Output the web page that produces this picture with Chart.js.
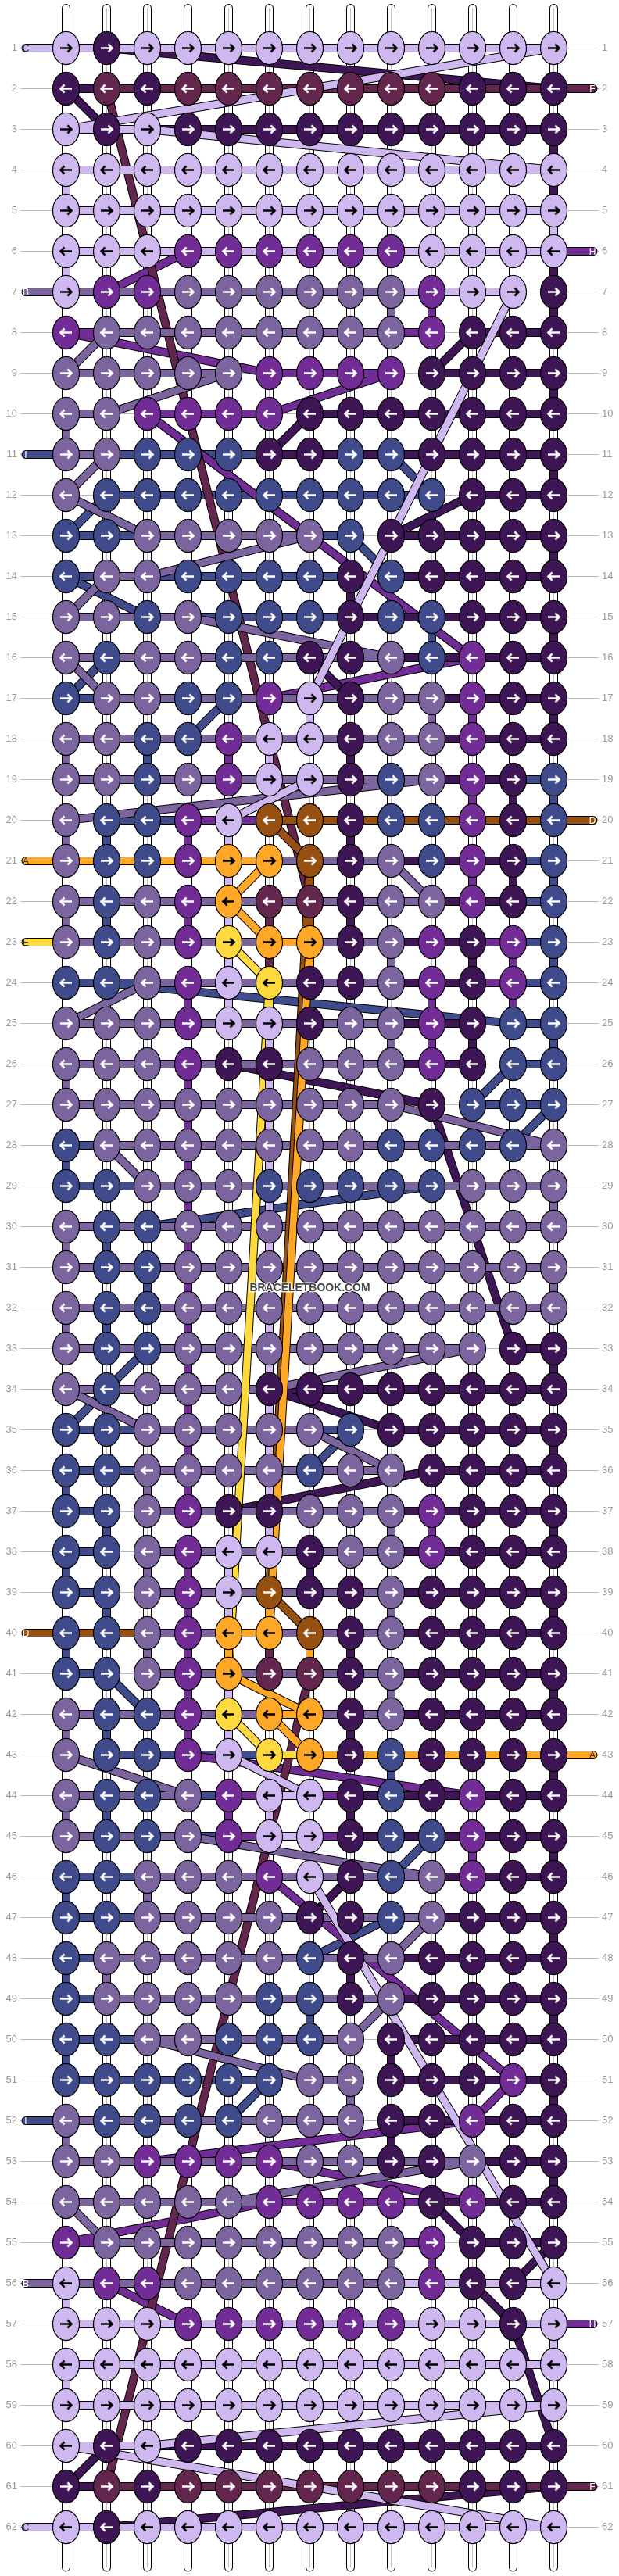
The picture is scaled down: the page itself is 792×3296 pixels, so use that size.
<!DOCTYPE html>
<html>
<head>
<meta charset="utf-8">
<title>Bracelet pattern</title>
<script src="https://cdn.jsdelivr.net/npm/chart.js@4"></script>
<style>
  html, body { margin: 0; padding: 0; background: #fff; }
  canvas { display: block; }
</style>
</head>
<body>
<canvas id="pattern" width="792" height="3296"></canvas>
<script>
// ── pattern data ───────────────────────────────────────
const rowLabels = [
  1,2,3,4,5,6,7,8,9,10,11,12,13,14,15,16,17,18,19,20,21,22,23,24,25,26,27,28,29,30,31,
  32,33,34,35,36,37,38,39,40,41,42,43,44,45,46,47,48,49,50,51,52,53,54,55,56,57,58,59,60,61,62
];

// knot colour per row, left to right
const knotRows = [
  'LDLLLLLLLLLLL','DMDMMMMMMMDDD','LDLDDDDDDDDDD','LLLLLLLLLLLLL','LLLLLLLLLLLLL',
  'LLLVVVVVVLLLL','LVVGGGGGGVLLD','VGGGGGGGGVDDD','GGGGGVVVVDDDD','GGVVVVDDDDDDD',
  'GGBBBDDBBDDDD','GBBBBBBBBBDDD','BBGGGGGBDDDDD','BGGBBBBDBDDDD','GGBGBBBDBBDDD',
  'GBGGBBDDGBVDD','BGGBBVLDGGVDD','GGBBVLLDGGVDD','GGBGVLLDBGVDB','GBBVLRRDBBVDB',
  'GBBVOORDGBVDB','GBGVOMMDGGVDB','GBGVYOODGVDVB','BBGVLYDDGVDVB','GGGVLLDGGVDBB',
  'GGGVDDGGGVDBB','GGGGGGGGGDBBB','BGGGGGGGBBBBG','BBGGGBBBBBGGG','GBBGGGGGGGGGG',
  'GBBGGGGGGGGGG','GBBGGGGGGGGGG','GBBGGGGGGGGDD','GBGGGDDDDDDDD','BBGGGGGBDDDDD',
  'BBGGGGBGGDDDD','BBGVDDGGGVDDD','BBGVLLDGGVDDD','BBGVLRDDGDDDD','BBGVOORDGDDDD',
  'BBGVOMMDGDDDD','GBBVYOODGDDDD','GBBVLYODBDDDD','GBBGVLLDBDVDD','GBBGVLLDBBVDD',
  'BBGGGVLDBGVDD','BBGGGGDDBGDDD','BGGGGGBDGDDDD','BGGGGBBDGDDDD','BBGGBBBGDDDDD',
  'BBBBBBGGDDDVD','GBBBBGGGDDVDD','GGVVVVGGDDGDD','GGGGGVVVVDVDD','VGGGGGGGGVDDD',
  'LVVGGGGGGVDDL','LLLVVVVVVLLDL','LLLLLLLLLLLLL','LLLLLLLLLLLLL','LDLDDDDDDDDDD',
  'DMDMMMMMMMDDD','LDLLLLLLLLLLL'
];

// thread between neighbouring knots in a row, '.' = no thread there
const rowThreads = [
  'LLLLLLLLLLLL','DMMMMMMMMMMM','LLDDDDDDDDDD','LLLLLLLLLLLL','LLLLLLLLLLLL',
  'LLLLLLLLLLLL','GGGGGGGGLLL.','VGGGGGGGV.DD','GGGG.VVV.DDD','G.VVV.DDDDDD',
  'GBBBBDDDDDDD','.BBBBBBBB.DD','BBGGGGB.DDDD','BGBBBBB.DDDD','GGGBBBBDDDDD',
  'GGGGGGGGDDDD','BGGGGGGGGDDD','GGGGGGGGGDDD','GGGGGGGGGDDB','.BBVVRRRRRRR',
  'OOOOOGGGDDDB','GGGGGGGGGDDB','GGGGGOGGDDVB','BBGGGGGGDDVB','GGGGGGGGDD.B',
  'GGGGGGGGDD.B','GGGGGGGG..BB','BGGGGGGGGGGG','BBGGGGGGGGGG','GGGGGGGGGGGG',
  'GGGGGGGGGGGG','GGGGGGGGGGGG','GGGGGGGGGG.D','GGGGGDDDDDDD','BBGGGGB.DDDD',
  'BBGGGGGG.DDD','B.GGGGGGDDDD','B.GGGGGGDDDD','B.GGGGGGDDDD','RRGGOGGGDDDD',
  'B.GGGGGGDDDD','GGGGGOGGDDDD','.BBBBYOOOOOO','GGGBVLVDDDDD','GGGBVLVDDDDD',
  'BBGGGGGGGDDD','BBGGGGGGGDDD','BGGGGGGGDDDD','BGGGGGGGDDDD','BBGGGGG.DDDD',
  'BBBBB.G.DDDD','GGGGGGG.DDDD','GGGGGGGGGGDD','GGGGGVVVVDDD','VGGGGGGGV.DD',
  'GGGGGGGGLLLL','LLLLLLLLLLLL','LLLLLLLLLLLL','LLLLLLLLLLLL','LLDDDDDDDDDD',
  'DMMMMMMMMMMM','LLLLLLLLLLLL'
];

// coloured thread dropping straight down: [from row, column, colour]
const downThreads = [
  [3,13,'D'],[4,1,'L'],[4,13,'D'],[5,13,'L'],[6,1,'L'],[6,13,'D'],[7,9,'G'],[7,10,'V'],[7,13,'D'],
  [9,13,'D'],[10,1,'G'],[11,13,'D'],[13,13,'D'],[14,8,'D'],[15,10,'B'],[15,13,'D'],
  [17,7,'L'],[17,10,'G'],[17,11,'V'],[17,13,'D'],[18,1,'G'],[18,3,'B'],[18,5,'V'],[18,6,'L'],[18,8,'D'],
  [19,11,'V'],[19,12,'D'],[19,13,'B'],[20,1,'G'],[20,2,'B'],[20,4,'V'],[20,5,'L'],[20,8,'D'],
  [21,5,'L'],[21,7,'R'],[21,11,'V'],[21,12,'D'],[21,13,'B'],
  [22,1,'G'],[22,2,'B'],[22,4,'V'],[22,5,'L'],[22,6,'M'],[22,7,'R'],[22,8,'D'],
  [23,5,'L'],[23,6,'M'],[23,7,'O'],[23,9,'G'],[23,11,'D'],[23,12,'V'],[23,13,'B'],
  [24,4,'V'],[24,5,'L'],[24,6,'Y'],[24,10,'V'],[24,12,'V'],
  [25,6,'L'],[25,9,'G'],[25,10,'V'],[25,11,'D'],[25,13,'B'],
  [26,1,'G'],[26,4,'V'],[26,6,'L'],[27,4,'V'],[27,6,'L'],[28,1,'B'],[28,4,'V'],[28,6,'L'],
  [29,4,'V'],[29,6,'L'],[29,13,'G'],[30,1,'G'],[30,2,'B'],[30,4,'V'],[30,6,'L'],
  [31,3,'B'],[31,4,'V'],[31,13,'G'],[32,1,'G'],[32,2,'B'],[32,4,'V'],[32,6,'L'],
  [33,4,'V'],[33,6,'L'],[33,13,'D'],[34,4,'V'],[34,6,'L'],[35,4,'V'],[35,6,'L'],[35,13,'D'],
  [36,1,'B'],[36,3,'G'],[36,4,'V'],[36,6,'L'],[37,2,'B'],[37,6,'L'],[37,9,'G'],[37,10,'V'],[37,13,'D'],
  [38,1,'B'],[38,3,'G'],[38,4,'V'],[38,5,'L'],[38,7,'D'],[39,2,'B'],[39,4,'V'],[39,5,'L'],[39,6,'O'],[39,9,'G'],[39,13,'D'],
  [40,1,'B'],[40,3,'G'],[40,4,'V'],[40,5,'O'],[40,6,'M'],[40,7,'O'],[40,8,'D'],
  [41,4,'V'],[41,5,'L'],[41,9,'G'],[41,13,'D'],[42,1,'G'],[42,2,'B'],[42,4,'V'],[42,5,'L'],[42,8,'D'],
  [43,9,'B'],[43,13,'D'],[44,1,'G'],[44,2,'B'],[44,5,'V'],[44,6,'L'],[44,8,'D'],
  [45,11,'V'],[45,13,'D'],[46,1,'B'],[46,3,'G'],[47,13,'D'],[48,1,'B'],[48,2,'G'],[48,8,'D'],
  [49,7,'B'],[49,13,'D'],[50,1,'B'],[50,9,'D'],[51,8,'G'],[51,13,'D'],[52,1,'G'],[52,9,'D'],[53,13,'D'],
  [55,9,'G'],[55,10,'V'],[56,1,'L'],[57,13,'L'],[58,1,'L']
];

// threads running across the pattern: [from col, from row, to col, to row, colour]
const crossThreads = [
  [2,1,13,2,'D'],[13,1,1,3,'L'],[1,2,2,3,'D'],[2,2,7,22,'M'],[3,3,13,4,'L'],[4,6,2,7,'V'],
  [1,8,6,9,'V'],[2,8,1,9,'G'],[5,9,2,10,'G'],[9,9,6,10,'V'],[11,8,10,9,'D'],[12,7,7,17,'L'],
  [3,10,11,16,'V'],[7,10,6,11,'D'],[2,11,1,12,'G'],[9,11,10,12,'B'],[11,12,9,13,'D'],
  [1,12,3,13,'G'],[2,12,1,13,'B'],[7,13,3,14,'G'],[8,13,9,14,'B'],[2,14,1,15,'G'],[1,14,3,15,'B'],
  [4,15,9,16,'G'],[2,16,1,17,'B'],[1,16,2,17,'G'],[11,16,6,17,'V'],[7,16,8,17,'D'],[5,17,4,18,'B'],
  [10,19,1,20,'G'],[7,19,5,20,'L'],[6,20,7,21,'R'],[6,21,5,22,'O'],[5,22,6,23,'O'],[5,23,6,24,'Y'],
  [9,21,10,22,'G'],[2,24,12,25,'B'],[3,24,1,25,'G'],[7,21,6,39,'R'],[7,23,6,40,'O'],[6,24,5,41,'Y'],
  [5,26,10,27,'D'],[9,27,13,28,'G'],[10,27,12,33,'D'],[12,26,11,27,'B'],[13,27,12,28,'B'],[2,28,3,29,'G'],
  [10,29,3,30,'B'],[3,33,2,34,'B'],[11,33,6,34,'G'],[2,34,1,35,'B'],[1,34,3,35,'G'],[6,34,9,35,'D'],
  [8,35,7,36,'B'],[7,35,9,36,'G'],[10,36,5,37,'D'],[6,39,7,40,'R'],[2,41,3,42,'B'],[5,41,7,42,'O'],
  [6,42,7,43,'O'],[5,42,6,43,'Y'],[5,43,7,44,'L'],[4,43,11,44,'V'],[1,43,4,44,'G'],[7,41,2,61,'M'],
  [4,45,10,46,'G'],[10,45,9,46,'B'],[9,47,7,48,'B'],[8,46,7,47,'D'],[6,46,12,51,'V'],[7,46,13,56,'L'],
  [10,47,9,48,'G'],[9,49,8,50,'G'],[3,50,7,51,'G'],[6,51,5,52,'B'],[12,51,11,52,'V'],[11,52,3,53,'V'],
  [11,53,5,54,'G'],[6,53,11,54,'V'],[6,54,1,55,'V'],[1,54,2,55,'G'],[10,54,11,55,'D'],[13,55,12,56,'D'],
  [11,56,12,57,'D'],[2,56,4,57,'V'],[12,57,13,60,'D'],[13,59,3,60,'L'],[2,60,1,61,'D'],[1,60,13,62,'L'],
  [13,61,2,62,'D']
];

// thread ends with their letter: [row, letter, colour]
const leftEnds  = [[1,'C','L'],[7,'B','G'],[11,'I','B'],[21,'A','O'],[23,'E','Y'],[40,'D','R'],[52,'I','B'],[56,'B','G'],[62,'C','L']];
const rightEnds = [[2,'F','M'],[6,'H','V'],[20,'D','R'],[43,'A','O'],[57,'H','V'],[61,'F','M']];

const watermark = 'BRACELETBOOK.COM';

// ── look ───────────────────────────────────────────────
const COLORS = {
  L: '#cfb8f0', D: '#3f1655', M: '#63264c', G: '#7c659f', B: '#404b8b',
  V: '#722c95', O: '#ffa726', Y: '#ffd940', R: '#965012'
};
const LIGHT = 'LOY';              // these get a black arrow / letter
const STACK = 'BVDMGRYOL';        // bottom to top, who runs over who
const NUM_COLS = 13;
const COL_PX = 52, ROW_PX = 52;
const THREAD_W = 9;

// knot picture: oval + arrow, one per colour and direction
const knotCache = {};
function knotImage(letter, toRight) {
  const key = letter + (toRight ? 'r' : 'l');
  if (knotCache[key]) return knotCache[key];
  const cv = document.createElement('canvas');
  cv.width = 37; cv.height = 45;
  const c = cv.getContext('2d');
  c.translate(18.5, 22.5);
  c.beginPath();
  c.ellipse(0, 0, 17, 21.2, 0, 0, Math.PI * 2);
  c.fillStyle = COLORS[letter];
  c.fill();
  c.strokeStyle = '#000';
  c.lineWidth = 1.2;
  c.stroke();
  // arrow
  const dir = toRight ? 1 : -1;
  c.strokeStyle = LIGHT.includes(letter) ? '#000' : '#fff';
  c.lineWidth = 2.6;
  c.beginPath();
  c.moveTo(-7.5 * dir, 0);
  c.lineTo(6.5 * dir, 0);
  c.moveTo(2 * dir, -5);
  c.lineTo(7 * dir, 0);
  c.lineTo(2 * dir, 5);
  c.stroke();
  knotCache[key] = cv;
  return cv;
}

// ── build line data ────────────────────────────────────
const BREAK = { x: null, y: null };
const END_LEFT = 0.01, END_RIGHT = 13.97;   // column units
const TAIL_TOP = 0.02, TAIL_BOTTOM = 62.99; // row units

const threadsByColor = {};
STACK.split('').forEach(k => { threadsByColor[k] = []; });

function addSeg(list, x1, y1, x2, y2) {
  list.push({ x: x1, y: y1 }, { x: x2, y: y2 }, BREAK);
}

rowThreads.forEach((str, r) => {
  str.split('').forEach((k, c) => {
    if (k !== '.') addSeg(threadsByColor[k], c + 1, r + 1, c + 2, r + 1);
  });
});
downThreads.forEach(([r, c, k]) => addSeg(threadsByColor[k], c, r, c, r + 1));
crossThreads.forEach(([c1, r1, c2, r2, k]) => addSeg(threadsByColor[k], c1, r1, c2, r2));
leftEnds.forEach(([r, , k]) => addSeg(threadsByColor[k], END_LEFT, r, 1, r));
rightEnds.forEach(([r, , k]) => addSeg(threadsByColor[k], NUM_COLS, r, END_RIGHT, r));

// white warp strands wherever no coloured thread drops down
const strands = [];
const taken = new Set(downThreads.map(([r, c]) => r + ':' + c));
for (let c = 1; c <= NUM_COLS; c++) {
  addSeg(strands, c, TAIL_TOP, c, 1);
  addSeg(strands, c, rowLabels.length, c, TAIL_BOTTOM);
  for (let r = 1; r < rowLabels.length; r++) {
    if (!taken.has(r + ':' + c)) addSeg(strands, c, r, c, r + 1);
  }
}

function lineSet(data, color, width) {
  return {
    type: 'line', data, borderColor: color, borderWidth: width,
    borderCapStyle: 'round', pointRadius: 0, fill: false, tension: 0, spanGaps: false
  };
}

const datasets = [];
datasets.push(lineSet(strands, '#000', THREAD_W + 2));
datasets.push(lineSet(strands, '#fff', THREAD_W));
datasets.push(lineSet(strands, '#c4c4c4', 1));
STACK.split('').forEach(k => {
  datasets.push(lineSet(threadsByColor[k], '#000', THREAD_W + 2));
  datasets.push(lineSet(threadsByColor[k], COLORS[k], THREAD_W));
});

const knotPoints = [];
const knotStyles = [];
knotRows.forEach((str, r) => {
  str.split('').forEach((k, c) => {
    knotPoints.push({ x: c + 1, y: r + 1 });
    knotStyles.push(knotImage(k, (r + 1) % 2 === 1));
  });
});
datasets.push({ type: 'scatter', data: knotPoints, pointStyle: knotStyles, showLine: false });

// Chart.js draws dataset 0 on top, so flip it
datasets.forEach((d, i) => { d.order = -i; });

// ── letters on thread ends + watermark ─────────────────
const labelsPlugin = {
  id: 'patternLabels',
  afterDraw(chart) {
    const { ctx, scales: { x, y } } = chart;
    ctx.save();
    ctx.textAlign = 'center';
    ctx.textBaseline = 'middle';
    ctx.font = '12px "Liberation Sans", Arial, sans-serif';
    const putLetter = (px, r, txt, k) => {
      ctx.fillStyle = LIGHT.includes(k) ? '#33334a' : '#fff';
      ctx.fillText(txt, px, y.getPixelForValue(r) + 1);
    };
    leftEnds.forEach(([r, txt, k]) => putLetter(33, r, txt, k));
    rightEnds.forEach(([r, txt, k]) => putLetter(758, r, txt, k));

    ctx.font = 'bold 15px "Liberation Sans", Arial, sans-serif';
    ctx.lineJoin = 'round';
    ctx.lineWidth = 3;
    ctx.strokeStyle = 'rgba(255,255,255,0.85)';
    ctx.fillStyle = '#444';
    const wx = x.getPixelForValue(7), wy = y.getPixelForValue(31.5);
    ctx.strokeText(watermark, wx, wy, 154);
    ctx.fillText(watermark, wx, wy, 154);
    ctx.restore();
  }
};

// ── chart ──────────────────────────────────────────────
const SIDE_PX = 26;     // room for the row numbers
const setRowTicks = s => { s.ticks = rowLabels.map(v => ({ value: v })); };
const fitSide = s => {
  s.width = SIDE_PX;
  s.paddingTop = 0;
  s.paddingBottom = 0;
};
const yBase = {
  type: 'linear',
  min: 1 - 61.5 / ROW_PX,
  max: rowLabels.length + 62.5 / ROW_PX,
  reverse: true,
  afterBuildTicks: setRowTicks,
  afterFit: fitSide,
  border: { display: false }
};
const tickStyle = {
  padding: 4, color: '#999', autoSkip: false, maxRotation: 0,
  font: { family: '"Liberation Sans", Arial, sans-serif', size: 13 },
  callback: v => String(v)
};

new Chart(document.getElementById('pattern'), {
  data: { datasets },
  plugins: [labelsPlugin],
  options: {
    responsive: false,
    devicePixelRatio: 1,
    animation: false,
    events: [],
    layout: { padding: 0, autoPadding: false },
    plugins: { legend: { display: false }, tooltip: { enabled: false } },
    scales: {
      x: {
        type: 'linear', display: false,
        min: 1 - 58.5 / COL_PX,
        max: NUM_COLS + 57.5 / COL_PX
      },
      y: {
        ...yBase, position: 'left',
        grid: { color: '#bbb', lineWidth: 1, drawTicks: false },
        ticks: tickStyle
      },
      y2: {
        ...yBase, position: 'right',
        grid: { display: false, drawTicks: false },
        ticks: tickStyle
      }
    }
  }
});
</script>
</body>
</html>
